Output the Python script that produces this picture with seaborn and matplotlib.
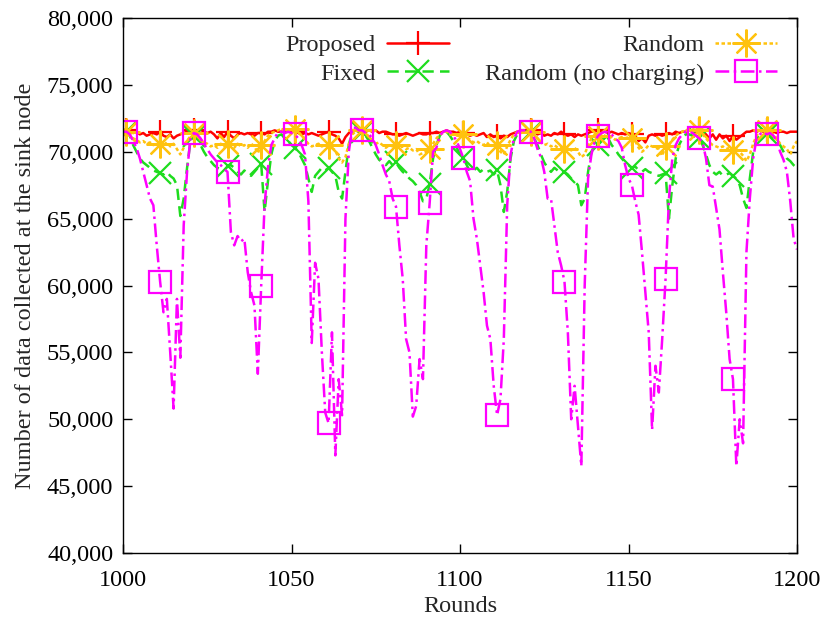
import numpy as np
import pandas as pd
import matplotlib
matplotlib.use("Agg")
import matplotlib.pyplot as plt
import seaborn as sns
from matplotlib.ticker import FuncFormatter

rounds = list(range(1000, 1201))

series_labels = ["Proposed", "Fixed", "Random", "Random (no charging)"]

proposed = [
    71600, 71600, 71500, 71400, 71500, 71300, 71400, 71200, 71300, 71400,
    71300, 71500, 71200, 71100, 71300, 71000, 71200, 71300, 71400, 71500,
    71500, 71600, 71500, 71400, 71500, 71400, 71500, 71300, 71000, 71400,
    71100, 71500, 71200, 71000, 71300, 71400, 71300, 71400, 71300, 71200,
    71400, 71400, 71300, 71500, 71500, 71600, 71500, 71500, 71600, 71500,
    71600, 71500, 71400, 71300, 71400, 71300, 71400, 71300, 71200, 71300,
    71400, 71500, 71300, 71200, 71000, 70600, 71100, 71400, 71600, 71600,
    71500, 71600, 71500, 71600, 71500, 71600, 71400, 71500, 71500, 71400,
    71300, 71300, 71200, 71300, 71400, 71300, 71200, 71300, 71400, 71300,
    71300, 71400, 71400, 71500, 71400, 71500, 71600, 71500, 71500, 71400,
    71500, 71400, 71300, 71200, 71300, 71200, 71300, 71400, 71100, 71300,
    71100, 71200, 71000, 71200, 71100, 71300, 71400, 71500, 71400, 71600,
    71500, 71600, 71500, 71300, 71400, 71200, 71300, 71200, 71400, 71300,
    71500, 71300, 71200, 71300, 71100, 71300, 71200, 71300, 71400, 71500,
    71500, 71600, 71500, 71500, 71400, 71500, 71400, 71300, 71400, 71300,
    71400, 71300, 71200, 70800, 71000, 70700, 71200, 71300, 71200, 71300,
    71200, 71300, 71400, 71300, 71500, 71400, 71500, 71500, 71600, 71500,
    71500, 71600, 71500, 71300, 71000, 71300, 70900, 71300, 71000, 71200,
    70800, 71200, 70900, 71100, 71300, 71500, 71500, 71600, 71500, 71600,
    71500, 71600, 71500, 71500, 71400, 71500, 71500, 71400, 71500, 71500,
    71500,
]

fixed = [
    71500, 71500, 71200, 70500, 70000, 69500, 69200, 69000, 68800, 68600,
    68500, 68400, 68300, 68500, 68200, 68000, 67500, 65200, 66500, 68800,
    70800, 71200, 71000, 70500, 70000, 69600, 69300, 69000, 68800, 68700,
    68600, 68900, 69000, 68800, 68500, 68300, 68600, 68400, 68200, 68500,
    68800, 69100, 65500, 67800, 69800, 70800, 71200, 71300, 71000, 70800,
    70500, 70300, 70000, 69500, 69000, 68000, 67000, 68200, 68500, 68800,
    68600, 68800, 68500, 68200, 67000, 66500, 68500, 70500, 71500, 71600,
    71500, 71500, 71200, 70800, 70300, 69800, 69400, 69200, 69000, 69300,
    69000, 69200, 68800, 68500, 68300, 68000, 67800, 67500, 67000, 66300,
    66500, 67600, 69500, 70500, 71200, 71500, 71500, 71200, 70800, 70300,
    69800, 69500, 69000, 68500, 68600, 68800, 68500, 68700, 68500, 68600,
    68300, 68600, 67500, 65500, 67000, 69500, 70800, 71300, 71500, 71500,
    71500, 71500, 71000, 70500, 69800, 69200, 68800, 68500, 68800, 68600,
    68500, 68500, 68300, 68000, 67800, 67500, 66000, 66500, 68500, 70000,
    70500, 70500, 71000, 71300, 71000, 70500, 70200, 69800, 69500, 69200,
    69000, 68800, 68900, 68600, 68500, 68700, 68500, 68400, 68300, 68200,
    68300, 68400, 65000, 67500, 69500, 70500, 71000, 71300, 71300, 71200,
    71100, 71000, 70500, 69800, 69000, 68500, 68300, 68500, 68200, 68300,
    68400, 68200, 68000, 67500, 66500, 65800, 68000, 70000, 71000, 71300,
    71400, 71300, 71200, 71000, 70800, 70500, 70000, 69500, 69300, 69000,
    68800,
]

random_ch = [
    71500, 71500, 71300, 71000, 70900, 70700, 70800, 70600, 70700, 70500,
    70600, 70600, 70500, 70700, 70400, 70600, 70200, 69800, 70300, 70800,
    71200, 71400, 71200, 70900, 70700, 70600, 70400, 70500, 70300, 70600,
    70400, 70600, 70500, 70300, 70600, 70400, 70500, 70300, 70600, 70400,
    69900, 70500, 70800, 71200, 71400, 71500, 71600, 71700, 71700, 71600,
    71700, 71700, 71500, 71200, 70900, 70600, 70400, 70500, 70600, 70400,
    70500, 70500, 70300, 70100, 69500, 69200, 69600, 70600, 71300, 71500,
    71600, 71600, 71400, 71100, 70800, 70600, 70700, 70500, 70300, 70500,
    70400, 70500, 70300, 70400, 70200, 70300, 70100, 70200, 69800, 69900,
    70000, 70200, 70600, 71000, 71300, 71400, 71500, 71400, 71300, 71200,
    71200, 71300, 71100, 70900, 70700, 70800, 70600, 70500, 70700, 70400,
    70500, 70500, 70000, 69800, 70400, 70900, 71300, 71500, 71600, 71600,
    71500, 71500, 71300, 71000, 70700, 70500, 70600, 70400, 70500, 70300,
    70400, 70200, 70300, 70100, 70300, 70000, 69600, 69800, 70500, 71000,
    71300, 71200, 71300, 71200, 71000, 71100, 70900, 71000, 71100, 71000,
    71100, 71000, 70800, 70300, 70000, 70200, 70500, 70400, 70300, 70200,
    69700, 70400, 70500, 70900, 71200, 71400, 71500, 71600, 71700, 71700,
    71600, 71600, 71300, 71000, 70700, 70500, 70400, 70300, 70400, 70200,
    70300, 70100, 70200, 70000, 69700, 69300, 69800, 70600, 71200, 71500,
    71600, 71600, 71500, 71300, 71000, 70600, 70400, 70200, 69800, 70400,
    70800,
]

random_nc = [
    71500, 71500, 71300, 70800, 70300, 69500, 68500, 67500, 66500, 66000,
    63000, 60300, 58000, 59000, 55000, 50800, 59000, 54600, 64500, 68500,
    71000, 71400, 71300, 71000, 70600, 70200, 69800, 69500, 69200, 69000,
    68700, 68500, 64000, 63000, 63700, 63300, 63500, 61000, 59500, 58500,
    53400, 60000, 66000, 68800, 70500, 71000, 71500, 71500, 71400, 71500,
    71400, 71300, 71000, 70500, 69800, 66300, 55700, 61700, 60500, 55000,
    50500, 49700, 56500, 47300, 53000, 50300, 65000, 70000, 71800, 71800,
    71600, 71600, 71400, 71300, 71000, 70500, 69800, 69000, 68300, 67800,
    66500, 65900, 63000, 60500, 56000, 55000, 50200, 51000, 54500, 53000,
    63000, 66200, 70000, 70300, 71200, 71500, 71600, 71500, 71200, 70800,
    70200, 69500, 68500, 67800, 65000, 63500, 61500, 59500, 57000, 56000,
    52500, 50300, 51500, 56000, 66000, 69800, 71000, 71500, 71600, 71600,
    71600, 71500, 71000, 70200, 69600, 68500, 66500, 66500, 64500, 62500,
    61500, 60300, 56500, 50000, 52500, 49500, 46500, 60000, 68000, 69800,
    70800, 71200, 71400, 71500, 71400, 71300, 71000, 70800, 70300, 69000,
    68000, 67500, 66300, 65300, 62500, 59500, 56500, 49200, 54000, 52000,
    56000, 60500, 66500, 69500, 70500, 71000, 71300, 71500, 71500, 71400,
    71200, 71000, 70700, 69500, 67500, 67400, 65800, 64200, 61000, 58000,
    54500, 53000, 46500, 50000, 48200, 62500, 66500, 69500, 71000, 71300,
    71500, 71300, 71400, 71200, 70800, 70000, 69400, 68500, 66300, 63500,
    62700,
]

x_ticks = [1000, 1050, 1100, 1150, 1200]
y_ticks = [40000, 45000, 50000, 55000, 60000, 65000, 70000, 75000, 80000]

FS = 17.5

sns.set_style("ticks")
plt.rcParams["font.family"] = ["Liberation Serif", "DejaVu Serif"]
plt.rcParams["font.size"] = FS

fig = plt.figure(figsize=(8.23, 6.19), dpi=100)
ax = fig.add_axes([0.1495, 0.1066, 0.8189, 0.8643])

styles = [
    (proposed, "#ff0000", "-", "+", 17, 1.8),
    (fixed, "#1edc1e", (0, (4.5, 2.5)), "x", 16, 1.8),
    (random_ch, "#ffc20e", (0, (1.4, 1.0)), (8, 2, 0), 20, 1.8),
    (random_nc, "#ff00ff", (0, (5.5, 1.8, 1.0, 1.8)), "s", 16, 1.8),
]

for (vals, col, ls, mk, ms, lw), lab in zip(styles, series_labels):
    df = pd.DataFrame({"Rounds": rounds, "Value": vals})
    sns.lineplot(data=df, x="Rounds", y="Value", ax=ax, color=col,
                 linestyle=ls, linewidth=lw, marker=mk, markersize=ms,
                 markevery=(1, 10), markerfacecolor="none",
                 markeredgecolor=col, markeredgewidth=1.6, label=lab,
                 estimator=None, errorbar=None)

ax.set_xlim(1000, 1200)
ax.set_ylim(40000, 80000)
ax.set_xticks(x_ticks)
ax.set_yticks(y_ticks)
ax.yaxis.set_major_formatter(FuncFormatter(lambda v, p: f"{int(v):,}"))
ax.tick_params(direction="in", length=6.5, width=1, top=True, right=True,
               labelsize=FS, colors="black")
ax.tick_params(axis="x", pad=12)
ax.tick_params(axis="y", pad=7)
for s in ax.spines.values():
    s.set_visible(True)
    s.set_linewidth(1.0)
    s.set_color("black")
ax.set_xlabel("Rounds", fontsize=FS, labelpad=4)
ax.set_ylabel("Number of data collected at the sink node", fontsize=FS, labelpad=8)

handles, labels = ax.get_legend_handles_labels()
leg = ax.legend(handles, labels, ncol=2, markerfirst=False, frameon=False,
                loc="upper right", bbox_to_anchor=(0.985, 0.988),
                borderaxespad=0.0, handlelength=2.55, handletextpad=0.45,
                columnspacing=1.5, labelspacing=0.28, fontsize=FS)

fig.savefig("out.png", dpi=100)
